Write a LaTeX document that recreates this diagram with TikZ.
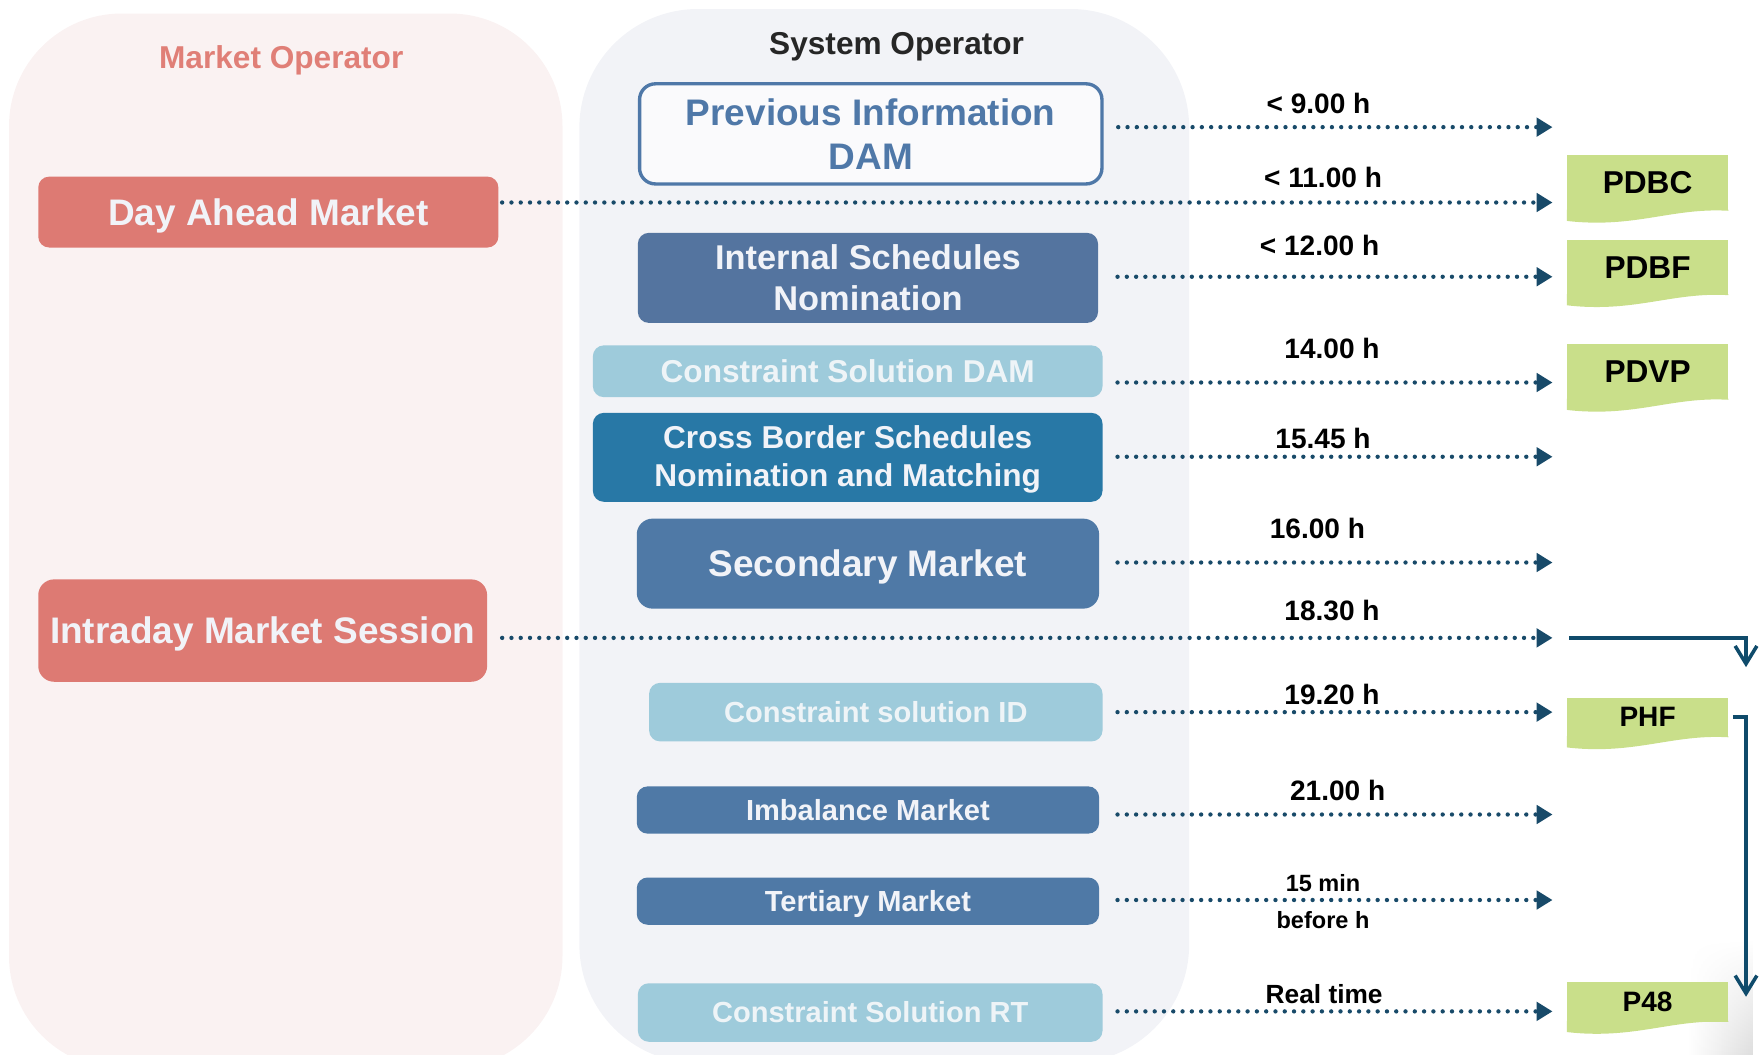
\documentclass[tikz,border=0pt]{standalone}
\usepackage{fontspec}
\setmainfont{Liberation Sans}
\usetikzlibrary{arrows.meta,calc,fadings}
\definecolor{mopanel}{HTML}{FAF2F2}
\definecolor{sopanel}{HTML}{F2F3F7}
\definecolor{salmon}{HTML}{DD7A73}
\definecolor{motext}{HTML}{E07F77}
\definecolor{slate}{HTML}{4F79A6}
\definecolor{slateb}{HTML}{54749F}
\definecolor{lblue}{HTML}{9ECBDB}
\definecolor{lbtext}{HTML}{EEF4F7}
\definecolor{cbblue}{HTML}{2878A6}
\definecolor{piblue}{HTML}{4F78A8}
\definecolor{docgreen}{HTML}{C9DF8A}
\definecolor{arrowc}{HTML}{184A69}
\definecolor{solidc}{HTML}{0F4B6B}
\definecolor{boxtext}{HTML}{F1F3F8}
\newcommand\docwave[1]{\fill[docgreen] ($(#1.south east)+(0,-1)$) -- (#1.south east) .. controls ($(#1.south east)+(-50,-3)$) and ($(#1.south west)+(60,16)$) .. ($(#1.south west)+(0,9)$) -- ($(#1.south west)+(0,-1)$) -- cycle;}
\begin{document}
\begin{tikzpicture}[x=0.02cm,y=-0.02cm,
  fs/.style 2 args={font=\fontsize{#1}{#2}\selectfont\bfseries},
  capt/.style={text height=#1, text depth=0pt},
  wh/.style 2 args={minimum width=#1*0.02cm, minimum height=#2*0.02cm},
  box/.style={rounded corners=5.5pt, inner sep=0pt, align=center, text=boxtext},
  doc/.style={fill=docgreen, inner sep=0pt, text=black},
  lbl/.style={inner sep=0pt, fs={14.2}{17}, text=black},
  dotarr/.style={draw=arrowc, line width=2.2pt, line cap=round, dash pattern=on 0pt off 4.7pt, -{Triangle[length=8pt,width=9.2pt]}},
  solidarr/.style={draw=solidc, line width=1.8pt, -{Straight Barb[length=9pt,width=11pt]}}
]
\useasboundingbox (0,0) rectangle (1568,937);
\begin{scope}
\clip (0,0) rectangle (1568,937);
% panels
\fill[mopanel, rounded corners=57pt] (8,12) rectangle (500,950);
\fill[sopanel, rounded corners=60pt] (515,8) rectangle (1057,945);
% faint page shadow bottom right
\shade[left color=white, right color=black!13, path fading=north] (1500,835) rectangle (1558,937);
\end{scope}
\node[fs={16}{19}, text=motext, capt=11.5pt, inner sep=0pt] (mot) at (250,51) {Market Operator};
\node[fs={16}{19}, text=black!85, capt=11.5pt, inner sep=0pt] (sot) at (797,38) {System Operator};
% market operator boxes
\node[box, fill=salmon, wh={409}{63}, fs={18.7}{22}, capt=13.4pt] (dam) at (238.5,188.5) {Day Ahead Market};
\node[box, fill=salmon, wh={399}{91}, fs={18.7}{22}, capt=13.4pt, rounded corners=8pt] (ims) at (233.5,560.5) {Intraday Market Session};
% system operator boxes
\node[box, draw=piblue, line width=1.7pt, fill=sopanel!40!white, text=piblue, wh={411}{89}, fs={18.7}{22}, rounded corners=8pt] (pid) at (774,119) {Previous Information\\DAM};
\node[box, fill=slateb, wh={409}{80}, fs={17.4}{21}] (isn) at (771.5,247) {Internal Schedules\\Nomination};
\node[box, fill=lblue, text=lbtext, wh={453}{46}, fs={16}{19}, capt=11.5pt] (csd) at (753.5,330) {Constraint Solution DAM};
\node[box, fill=cbblue, wh={453}{79}, fs={16}{19.3}] (cbs) at (753.5,406.5) {\rule{0pt}{14pt}Cross Border Schedules\\Nomination and Matching};
\node[box, fill=slate, wh={411}{80}, fs={18.7}{22}, capt=13.4pt, rounded corners=8pt] (sec) at (771.5,501) {Secondary Market};
\node[box, fill=lblue, text=lbtext, wh={403}{52}, fs={14.7}{18}, capt=10.5pt] (csi) at (778.5,633) {Constraint solution ID};
\node[box, fill=slate, wh={411}{42}, fs={14.7}{18}, capt=10.5pt] (imb) at (771.5,720) {Imbalance Market};
\node[box, fill=slate, wh={411}{42}, fs={14.7}{18}, capt=10.5pt] (ter) at (771.5,801) {Tertiary Market};
\node[box, fill=lblue, text=lbtext, wh={413}{52}, fs={14.7}{18}, capt=10.5pt] (csr) at (773.5,900) {Constraint Solution RT};
% documents
\node[doc, wh={143}{49}, fs={16}{19}] (pdbc) at (1464.5,162.5) {PDBC};
\docwave{pdbc}
\node[doc, wh={143}{49}, fs={16}{19}] (pdbf) at (1464.5,237.5) {PDBF};
\docwave{pdbf}
\node[doc, wh={143}{49}, fs={16}{19}] (pdvp) at (1464.5,330.5) {PDVP};
\docwave{pdvp}
\node[doc, wh={143}{35}, fs={14.2}{17}] (phf) at (1464.5,637.5) {PHF};
\docwave{phf}
\node[doc, wh={143}{35}, fs={14.2}{17}] (p48) at (1464.5,890.5) {P48};
\docwave{p48}
% arrow ends
\coordinate (e1) at (1380,113);
\coordinate (e2) at (1380,180);
\coordinate (e3) at (1380,246);
\coordinate (e4) at (1380,340);
\coordinate (e5) at (1380,406);
\coordinate (e6) at (1380,500);
\coordinate (e7) at (1380,567);
\coordinate (e8) at (1380,633);
\coordinate (e9) at (1380,724);
\coordinate (e10) at (1380,800);
\coordinate (e11) at (1380,899);
% dotted arrows
\draw[dotarr] ($(pid.east|-e1)+(13,0)$) -- (e1);
\draw[dotarr] ($(dam.east|-e2)+(3,0)$) -- (e2);
\draw[dotarr] ($(isn.east|-e3)+(17,0)$) -- (e3);
\draw[dotarr] ($(csd.east|-e4)+(13,0)$) -- (e4);
\draw[dotarr] ($(cbs.east|-e5)+(13,0)$) -- (e5);
\draw[dotarr] ($(sec.east|-e6)+(16,0)$) -- (e6);
\draw[dotarr] ($(ims.east|-e7)+(13,0)$) -- (e7);
\draw[dotarr] ($(csi.east|-e8)+(13,0)$) -- (e8);
\draw[dotarr] ($(imb.east|-e9)+(16,0)$) -- (e9);
\draw[dotarr] ($(ter.east|-e10)+(16,0)$) -- (e10);
\draw[dotarr] ($(csr.east|-e11)+(13,0)$) -- (e11);
% labels
\node[lbl] (l1) at (1172,92) {< 9.00 h};
\node[lbl] (l2) at (1176,158) {< 11.00 h};
\node[lbl] (l3) at (1173,218) {< 12.00 h};
\node[lbl] (l4) at (1184,310) {14.00 h};
\node[lbl] (l5) at (1176,390) {15.45 h};
\node[lbl] (l6) at (1171,470) {16.00 h};
\node[lbl] (l7) at (1184,543) {18.30 h};
\node[lbl] (l8) at (1184,617) {19.20 h};
\node[lbl] (l9) at (1189,703) {21.00 h};
\node[lbl, fs={11.9}{14}] (l10) at (1176,785) {15 min};
\node[lbl, fs={11.9}{14}] (l11) at (1176,818) {before h};
\node[lbl, fs={13.3}{16}] (l12) at (1177,884) {Real time};
% solid arrows
\coordinate (c1) at (1395,567);
\coordinate (c2) at (1552,593);
\coordinate (c3) at (1552,886);
\draw[solidarr] (c1) -| (c2);
\draw[solidarr] ($(phf.east)+(4,0)$) -| (c3);
\end{tikzpicture}
\end{document}
